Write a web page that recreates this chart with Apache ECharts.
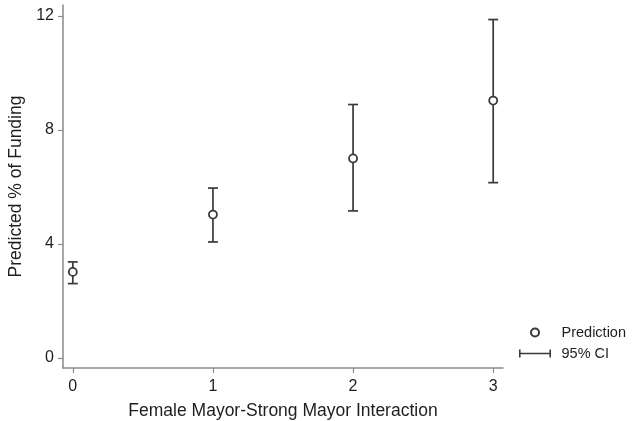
<!DOCTYPE html>
<html>
<head>
<meta charset="utf-8">
<script src="https://cdn.jsdelivr.net/npm/echarts@6/dist/echarts.min.js"></script>
<style>
html,body{margin:0;padding:0;background:#fff;}
#chart{width:634px;height:421px;}
</style>
</head>
<body>
<div id="chart"></div>
<script>
var categories = [0, 1, 2, 3];
var prediction = [3.02, 5.03, 7.0, 9.03];
var ciLower = [2.61, 4.07, 5.16, 6.15];
var ciUpper = [3.37, 5.96, 8.89, 11.87];
var yTicks = [0, 4, 8, 12];
var xTicks = [0, 1, 2, 3];

var FONT = '"Liberation Sans", Arial, Helvetica, sans-serif';
var axisColor = '#8a8a8a';
var markColor = '#3a3a3a';
var textColor = '#1e1e1e';

var chart = echarts.init(document.getElementById('chart'));

var predData = categories.map(function (c, i) { return [c, prediction[i]]; });
var ciData = categories.map(function (c, i) { return [c, ciLower[i], ciUpper[i]]; });

var option = {
  backgroundColor: '#fff',
  animation: false,
  grid: { left: 63, right: 131, top: 5, bottom: 53, containLabel: false, outerBoundsMode: 'none' },
  legend: {
    orient: 'vertical',
    left: 514,
    top: 320,
    itemWidth: 37,
    itemHeight: 8,
    itemGap: 6,
    textStyle: { fontFamily: FONT, fontSize: 14.5, color: textColor, padding: [0, 0, 0, 3] },
    data: [
      { name: 'Prediction', icon: 'emptyCircle', itemStyle: { color: markColor, borderColor: markColor, borderWidth: 1.8 } },
      { name: '95% CI', icon: 'path://M0,0 H2 V4.2 H38 V0 H40 V10 H38 V5.8 H2 V10 H0 Z', itemStyle: { color: markColor, borderWidth: 0 } }
    ]
  },
  xAxis: {
    type: 'value',
    min: -0.07,
    max: 3.07,
    name: 'Female Mayor-Strong Mayor Interaction',
    nameLocation: 'middle',
    nameGap: 34,
    nameTextStyle: { fontFamily: FONT, fontSize: 17.5, color: textColor },
    axisLine: { show: true, onZero: false, lineStyle: { color: axisColor, width: 1.5 } },
    axisTick: { show: true, length: 5, customValues: xTicks, lineStyle: { color: axisColor, width: 1.2 } },
    axisLabel: { customValues: xTicks, margin: 11, fontFamily: FONT, fontSize: 16, color: textColor },
    splitLine: { show: false }
  },
  yAxis: {
    type: 'value',
    min: -0.35,
    max: 12.38,
    name: 'Predicted % of Funding',
    nameLocation: 'middle',
    nameGap: 36,
    nameTextStyle: { fontFamily: FONT, fontSize: 17.5, color: textColor },
    axisLine: { show: true, onZero: false, lineStyle: { color: axisColor, width: 1.5 } },
    axisTick: { show: true, length: 5, customValues: yTicks, lineStyle: { color: axisColor, width: 1.2 } },
    axisLabel: { customValues: yTicks, margin: 9, fontFamily: FONT, fontSize: 16, color: textColor },
    splitLine: { show: false }
  },
  series: [
    {
      name: '95% CI',
      type: 'custom',
      data: ciData,
      itemStyle: { color: markColor },
      renderItem: function (params, api) {
        var x = api.value(0);
        var lo = api.coord([x, api.value(1)]);
        var hi = api.coord([x, api.value(2)]);
        var hw = 5;
        var style = { stroke: markColor, lineWidth: 1.7, fill: null };
        return {
          type: 'group',
          children: [
            { type: 'line', shape: { x1: lo[0], y1: lo[1], x2: hi[0], y2: hi[1] }, style: style },
            { type: 'line', shape: { x1: lo[0] - hw, y1: lo[1], x2: lo[0] + hw, y2: lo[1] }, style: style },
            { type: 'line', shape: { x1: hi[0] - hw, y1: hi[1], x2: hi[0] + hw, y2: hi[1] }, style: style }
          ]
        };
      },
      z: 2
    },
    {
      name: 'Prediction',
      type: 'scatter',
      data: predData,
      symbol: 'circle',
      symbolSize: 8,
      itemStyle: { color: '#fff', borderColor: markColor, borderWidth: 1.8, opacity: 1 },
      z: 3
    }
  ]
};
chart.setOption(option);
</script>
</body>
</html>
